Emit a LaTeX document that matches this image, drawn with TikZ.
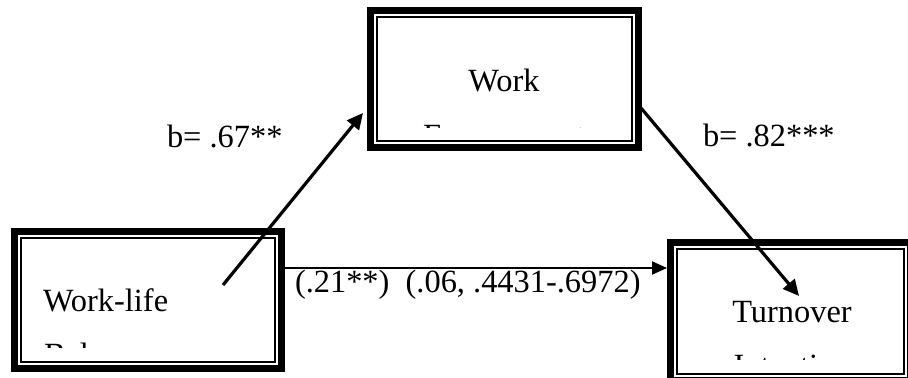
\documentclass[tikz,border=0pt]{standalone}
\usepackage{fontspec}
\setmainfont{Liberation Serif}
\usetikzlibrary{arrows.meta,fit}
\begin{document}
\begin{tikzpicture}[x=0.5pt,y=-0.5pt,
  varbox/.style={inner sep=0pt, outer sep=0pt,
    path picture={
      \draw[line width=3.5pt] ([shift={(1.75pt,-1.75pt)}]path picture bounding box.north west) rectangle ([shift={(-1.75pt,1.75pt)}]path picture bounding box.south east);
      \draw[line width=1pt] ([shift={(5pt,-5pt)}]path picture bounding box.north west) rectangle ([shift={(-5pt,5pt)}]path picture bounding box.south east);
    }},
  txt/.style={font=\fontsize{16.2}{19}\selectfont, inner sep=0pt, outer sep=0pt},
  arr/.style={line width=1.6pt, -{Triangle[length=8pt,width=7.5pt]}},
  harr/.style={line width=1pt, -{Triangle[length=7.5pt,width=6.5pt]}}]
\useasboundingbox (0,0) rectangle (908,378);
% boxes
\node[varbox, fit={(367,7) (642,151)}] (we) {};
\node[varbox, fit={(11,228) (285,372)}] (wlb) {};
\node[varbox, fit={(667,239) (914,384)}] (ti) {};
% box texts (second lines cut off by the text frames, as in the original)
\begin{scope}
  \clip (380,20) rectangle (630,128);
  \node[txt, anchor=base] (we1) at (504,92) {Work};
  \node[txt, anchor=base] (we2) at (504,147) {Engagement};
\end{scope}
\begin{scope}
  \clip (22,240) rectangle (274,348);
  \node[txt, anchor=base west] (wl1) at (43,312) {Work-life};
  \node[txt, anchor=base west] (wl2) at (44,365) {Balance};
\end{scope}
\begin{scope}
  \clip (680,250) rectangle (908,360);
  \node[txt, anchor=base] (ti1) at (792,323) {Turnover};
  \node[txt, anchor=base] (ti2) at (792,377) {Intention};
\end{scope}
% labels
\node[txt, anchor=base west] (la) at (167,148) {b= .67**};
\node[txt, anchor=base west] (lb) at (703,147) {b= .82***};
\node[txt, anchor=base west] (lc) at (295,293) {(.21**)~~(.06, .4431-.6972)};
% connectors
\coordinate (a1s) at (223,285);
\coordinate (a1e) at (363,113);
\coordinate (a2s) at (641,108);
\coordinate (a2e) at (799,296);
\coordinate (hs) at (284,268);
\draw[arr] (a1s) -- (a1e);
\draw[arr] (a2s) -- (a2e);
\draw[harr] (hs) -- (ti.west |- hs);
\end{tikzpicture}
\end{document}
